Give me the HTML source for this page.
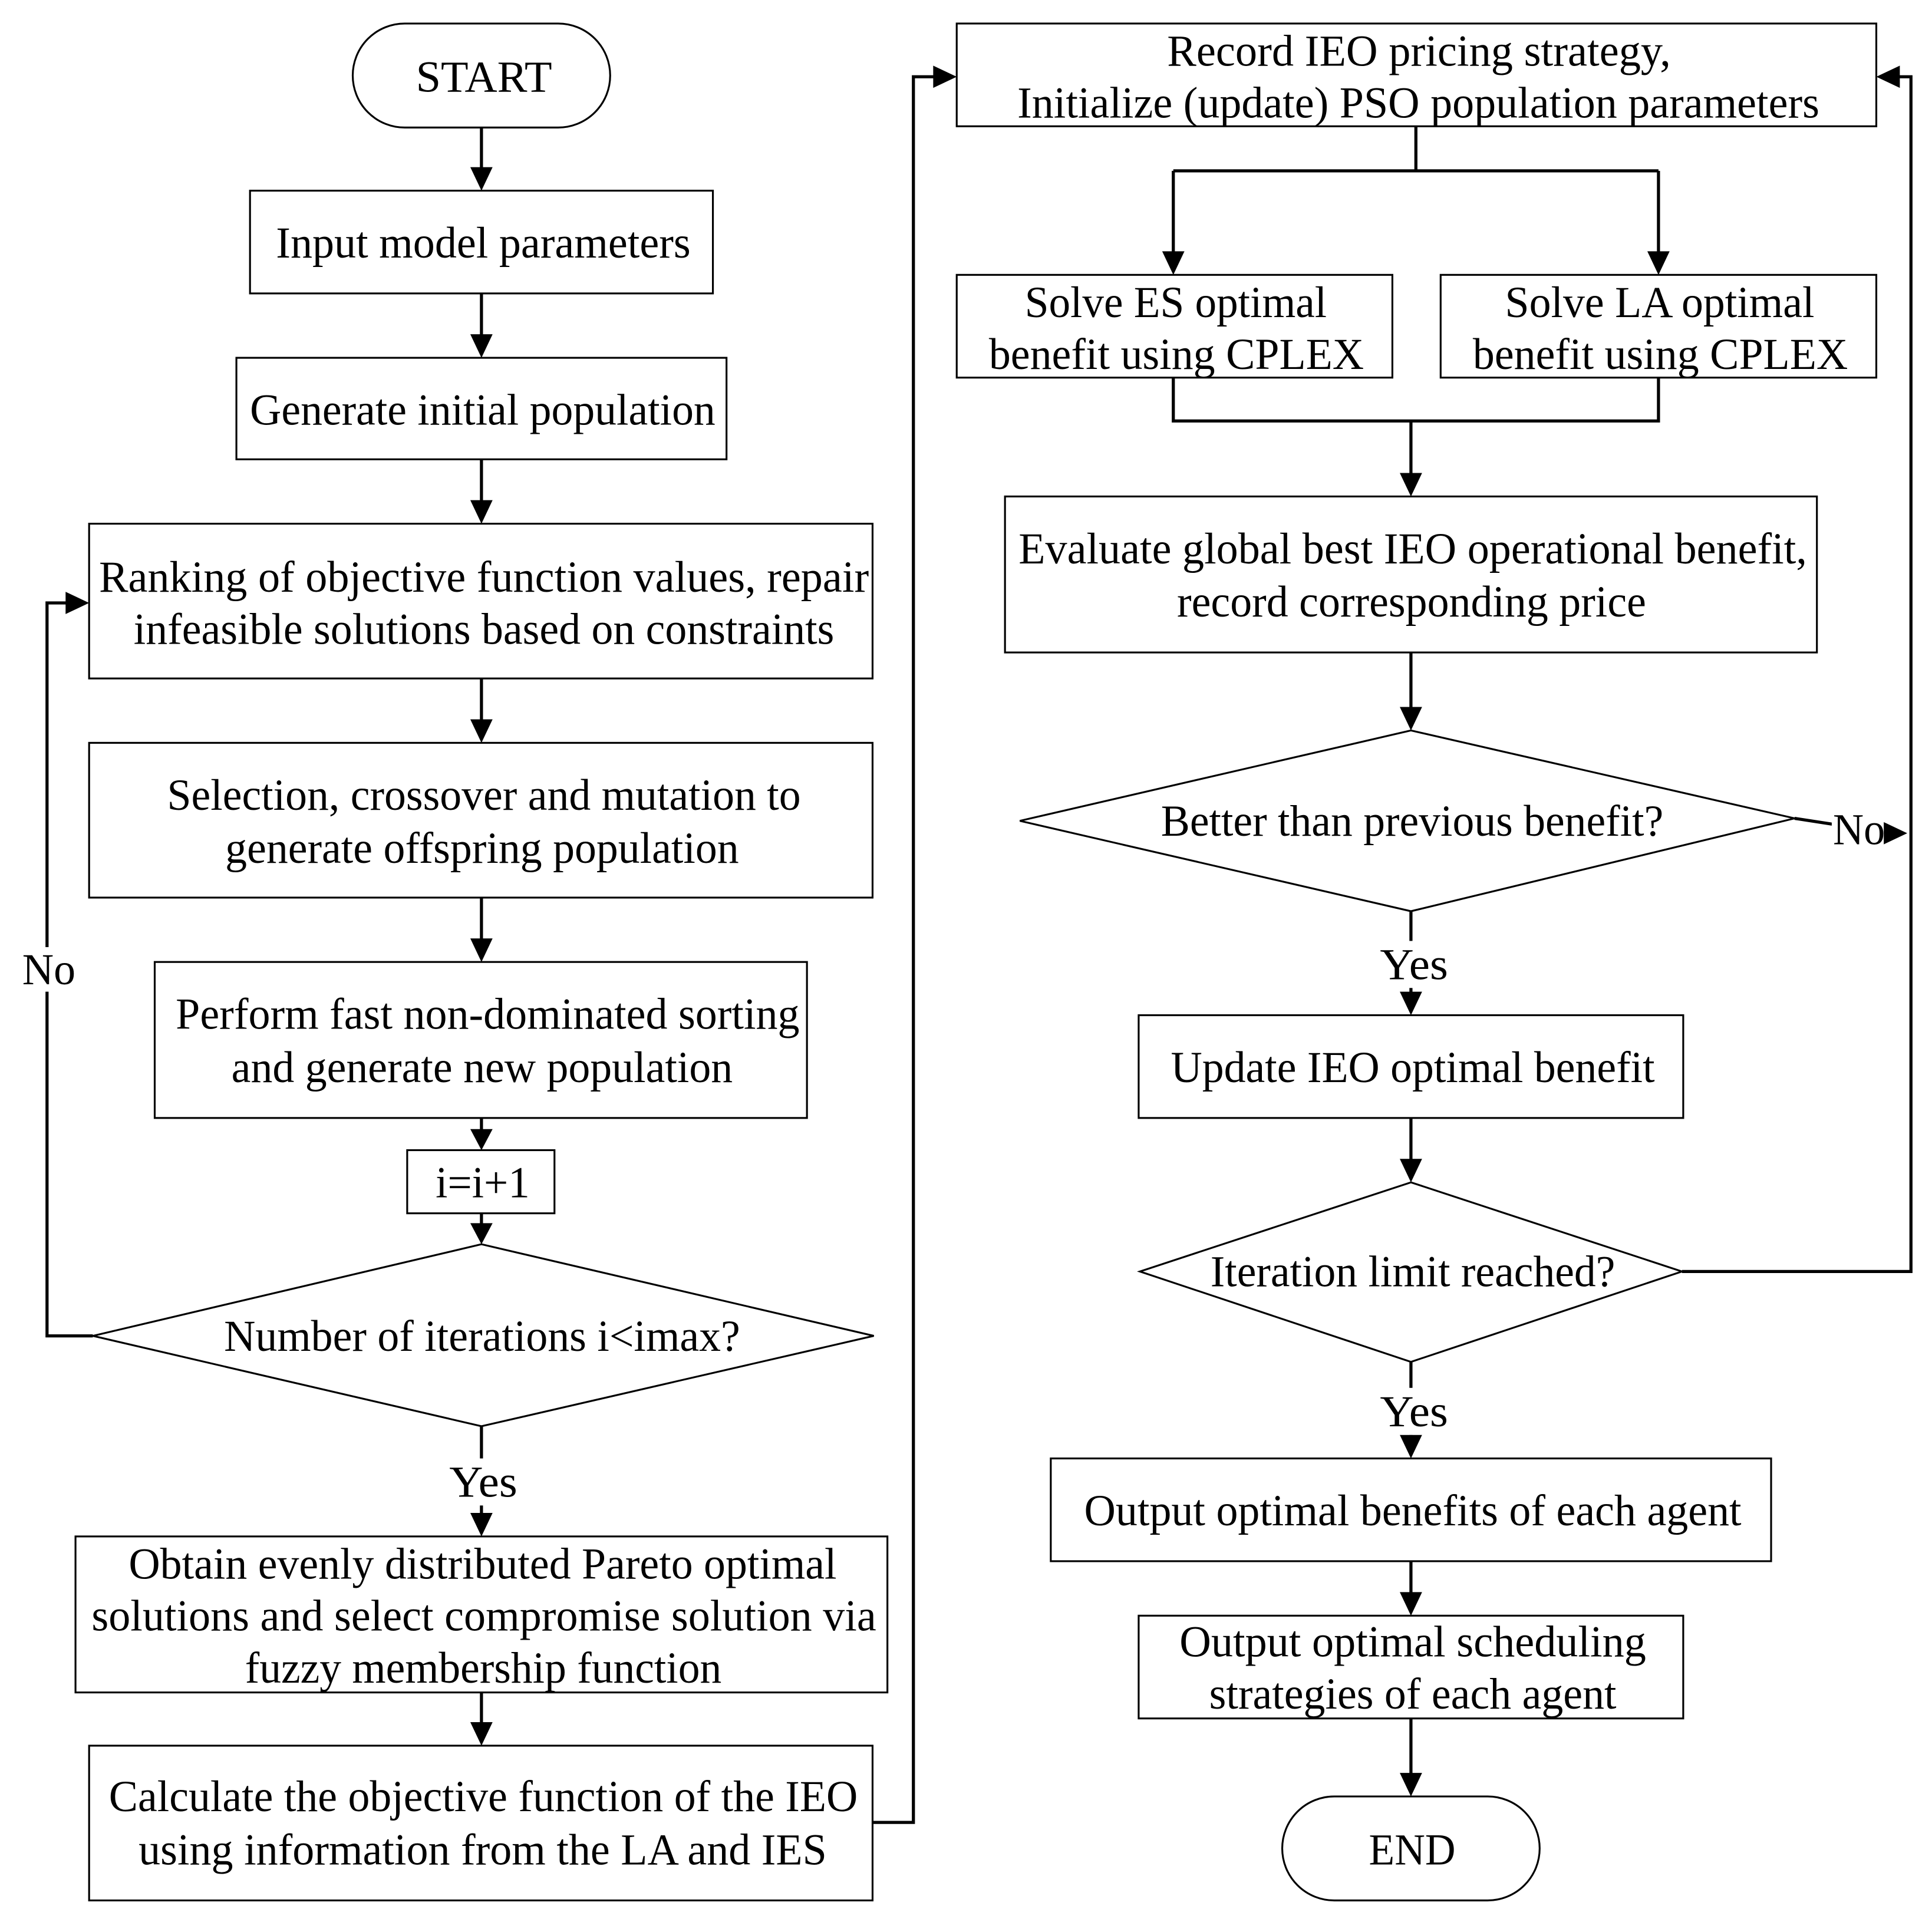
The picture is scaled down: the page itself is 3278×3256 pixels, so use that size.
<!DOCTYPE html>
<html><head><meta charset="utf-8"><style>html,body{margin:0;padding:0;background:#fff}svg{display:block}</style></head>
<body>
<svg width="3278" height="3256" viewBox="0 0 1561 1550" preserveAspectRatio="none" xmlns="http://www.w3.org/2000/svg">
<g fill="#fff" stroke="#000" stroke-width="1.5">
<rect x="285" y="19" width="208" height="84" rx="42"/>
<rect x="202" y="154" width="374" height="83"/>
<rect x="191" y="289" width="396" height="82"/>
<rect x="72" y="423" width="633" height="125"/>
<rect x="72" y="600" width="633" height="125"/>
<rect x="125" y="777" width="527" height="126"/>
<rect x="329" y="929" width="119" height="51"/>
<polygon points="389,1005 706,1079 389,1152 75,1079"/>
<rect x="61" y="1241" width="656" height="126"/>
<rect x="72" y="1410" width="633" height="125"/>
<rect x="773" y="19" width="743" height="83"/>
<rect x="773" y="222" width="352" height="83"/>
<rect x="1164" y="222" width="352" height="83"/>
<rect x="812" y="401" width="656" height="126"/>
<polygon points="1140,590 1450,661 1140,736 824,663"/>
<rect x="920" y="820" width="440" height="83"/>
<polygon points="1140,955 1359,1027 1140,1100 921,1027"/>
<rect x="849" y="1178" width="582" height="83"/>
<rect x="920" y="1305" width="440" height="83"/>
<rect x="1036" y="1451" width="208" height="84" rx="42"/>
</g>
<g fill="none" stroke="#000" stroke-width="2.5">
<path d="M389 103V140M389 237V276M389 371V410M389 548V587M389 725V764M389 903V916M389 980V992M389 1152V1228M389 1367V1397"/>
<path d="M75 1079H38V487H60"/>
<path d="M705 1472H738V62H760"/>
<path d="M1144 102V138M948 138H1340M948 138V209M1340 138V209"/>
<path d="M948 305V340H1340V305M1140 340V388M1140 527V577M1140 736V807M1140 903V942M1140 1100V1165M1140 1261V1292M1140 1388V1438"/>
<path d="M1359 1027H1544V62H1529"/>
<path d="M1450 661L1528 673"/>
</g>
<g fill="#000">
<polygon points="380,135 398,135 389,154"/>
<polygon points="380,270 398,270 389,289"/>
<polygon points="380,404 398,404 389,423"/>
<polygon points="380,581 398,581 389,600"/>
<polygon points="380,758 398,758 389,777"/>
<polygon points="380,912 398,912 389,929"/>
<polygon points="380,988 398,988 389,1005"/>
<polygon points="380,1222 398,1222 389,1241"/>
<polygon points="380,1391 398,1391 389,1410"/>
<polygon points="53,478 53,496 72,487"/>
<polygon points="754,53 754,71 773,62"/>
<polygon points="939,203 957,203 948,222"/>
<polygon points="1331,203 1349,203 1340,222"/>
<polygon points="1131,382 1149,382 1140,401"/>
<polygon points="1131,571 1149,571 1140,590"/>
<polygon points="1131,801 1149,801 1140,820"/>
<polygon points="1131,936 1149,936 1140,955"/>
<polygon points="1131,1159 1149,1159 1140,1178"/>
<polygon points="1131,1286 1149,1286 1140,1305"/>
<polygon points="1131,1432 1149,1432 1140,1451"/>
<polygon points="1535,53 1535,71 1516,62"/>
<polygon points="1522,664 1522,682 1541,673"/>
</g>
<g fill="#fff">
<rect x="18" y="765" width="44" height="36"/>
<rect x="360" y="1178" width="60" height="38"/>
<rect x="1112" y="760" width="60" height="38"/>
<rect x="1112" y="1121" width="60" height="38"/>
<rect x="1480" y="654" width="42" height="34"/>
</g>
<g font-family="'Liberation Serif', serif" font-size="36" fill="#000">
<text x="336" y="74" textLength="110" lengthAdjust="spacingAndGlyphs">START</text>
<text x="223" y="208" textLength="335" lengthAdjust="spacingAndGlyphs">Input model parameters</text>
<text x="202" y="343" textLength="376" lengthAdjust="spacingAndGlyphs">Generate initial population</text>
<text x="80" y="478" textLength="622" lengthAdjust="spacingAndGlyphs">Ranking of objective function values, repair</text>
<text x="108" y="520" textLength="566" lengthAdjust="spacingAndGlyphs">infeasible solutions based on constraints</text>
<text x="135" y="654" textLength="512" lengthAdjust="spacingAndGlyphs">Selection, crossover and mutation to</text>
<text x="182" y="697" textLength="415" lengthAdjust="spacingAndGlyphs">generate offspring population</text>
<text x="142" y="831" textLength="504" lengthAdjust="spacingAndGlyphs">Perform fast non-dominated sorting</text>
<text x="187" y="874" textLength="405" lengthAdjust="spacingAndGlyphs">and generate new population</text>
<text x="352" y="967" textLength="76" lengthAdjust="spacingAndGlyphs">i=i+1</text>
<text x="181" y="1091" textLength="417" lengthAdjust="spacingAndGlyphs">Number of iterations i&lt;imax?</text>
<text x="18" y="795" textLength="43" lengthAdjust="spacingAndGlyphs">No</text>
<text x="363" y="1209" textLength="55" lengthAdjust="spacingAndGlyphs">Yes</text>
<text x="104" y="1275" textLength="572" lengthAdjust="spacingAndGlyphs">Obtain evenly distributed Pareto optimal</text>
<text x="74" y="1317" textLength="634" lengthAdjust="spacingAndGlyphs">solutions and select compromise solution via</text>
<text x="198" y="1359" textLength="385" lengthAdjust="spacingAndGlyphs">fuzzy membership function</text>
<text x="88" y="1463" textLength="605" lengthAdjust="spacingAndGlyphs">Calculate the objective function of the IEO</text>
<text x="112" y="1506" textLength="556" lengthAdjust="spacingAndGlyphs">using information from the LA and IES</text>
<text x="943" y="53" textLength="407" lengthAdjust="spacingAndGlyphs">Record IEO pricing strategy,</text>
<text x="822" y="95" textLength="648" lengthAdjust="spacingAndGlyphs">Initialize (update) PSO population parameters</text>
<text x="828" y="256" textLength="244" lengthAdjust="spacingAndGlyphs">Solve ES optimal</text>
<text x="799" y="298" textLength="303" lengthAdjust="spacingAndGlyphs">benefit using CPLEX</text>
<text x="1216" y="256" textLength="250" lengthAdjust="spacingAndGlyphs">Solve LA optimal</text>
<text x="1190" y="298" textLength="303" lengthAdjust="spacingAndGlyphs">benefit using CPLEX</text>
<text x="823" y="455" textLength="637" lengthAdjust="spacingAndGlyphs">Evaluate global best IEO operational benefit,</text>
<text x="951" y="498" textLength="379" lengthAdjust="spacingAndGlyphs">record corresponding price</text>
<text x="938" y="675" textLength="406" lengthAdjust="spacingAndGlyphs">Better than previous benefit?</text>
<text x="1481" y="682" textLength="42" lengthAdjust="spacingAndGlyphs">No</text>
<text x="1115" y="791" textLength="55" lengthAdjust="spacingAndGlyphs">Yes</text>
<text x="946" y="874" textLength="391" lengthAdjust="spacingAndGlyphs">Update IEO optimal benefit</text>
<text x="978" y="1039" textLength="327" lengthAdjust="spacingAndGlyphs">Iteration limit reached?</text>
<text x="1115" y="1152" textLength="55" lengthAdjust="spacingAndGlyphs">Yes</text>
<text x="876" y="1232" textLength="531" lengthAdjust="spacingAndGlyphs">Output optimal benefits of each agent</text>
<text x="953" y="1338" textLength="377" lengthAdjust="spacingAndGlyphs">Output optimal scheduling</text>
<text x="977" y="1380" textLength="329" lengthAdjust="spacingAndGlyphs">strategies of each agent</text>
<text x="1106" y="1506" textLength="70" lengthAdjust="spacingAndGlyphs">END</text>
</g>
</svg>
</body></html>
